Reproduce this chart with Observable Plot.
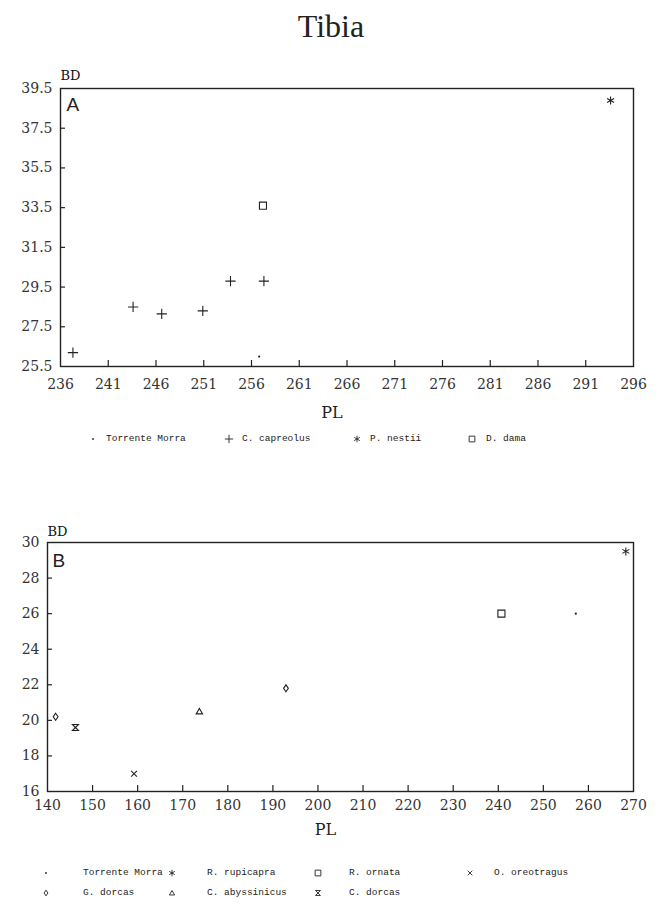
<!DOCTYPE html>
<html><head><meta charset="utf-8">
<script src="https://cdn.jsdelivr.net/npm/d3@7"></script>
<script src="https://cdn.jsdelivr.net/npm/@observablehq/plot@0.6"></script>
<style>
body{margin:0;background:#fff}
#root{position:relative;width:661px;height:906px;overflow:hidden;background:#fff;color:#222}
#title{position:absolute;left:0;width:662px;text-align:center;top:10px;font:32px/32px "Liberation Serif",serif;color:#222}
.panel{position:absolute;left:0}
.legend{position:absolute;display:grid;align-items:center;font:9.5px/20px "Liberation Mono",monospace;white-space:nowrap;color:#222}
.legend svg{display:block;overflow:visible}
</style></head><body>
<div id="root">
  <div id="title"></div>
  <div id="panelA" class="panel" style="top:60px"></div>
  <div id="legendA" class="legend" style="left:88px;top:429px;grid-template-columns:18px 118px 18px 110px 18px 97px 19px auto"></div>
  <div id="panelB" class="panel" style="top:480px"></div>
  <div id="legendB" class="legend" style="left:41px;top:863px;grid-template-columns:42px 84px 40px 106px 36px 116px 29px auto"></div>
</div>
<script>
// ---------- text ----------
const titleText = "Tibia";
const xLabel = "PL";
const yLabel = "BD";

// ---------- panel A data ----------
const aLetter = "A";
const aSpecies = ["Torrente Morra", "C. capreolus", "P. nestii", "D. dama"];
const aPL    = [237.3, 243.6, 246.6, 250.9, 253.8, 257.3, 257.2, 256.8, 293.6];
const aBD    = [26.2, 28.5, 28.15, 28.3, 29.8, 29.8, 33.6, 26.0, 38.9];
const aGroup = ["C. capreolus", "C. capreolus", "C. capreolus", "C. capreolus", "C. capreolus", "C. capreolus", "D. dama", "Torrente Morra", "P. nestii"];
const aXTicks = [236, 241, 246, 251, 256, 261, 266, 271, 276, 281, 286, 291, 296];
const aYTicks = [25.5, 27.5, 29.5, 31.5, 33.5, 35.5, 37.5, 39.5];

// ---------- panel B data ----------
const bLetter = "B";
const bSpecies = ["Torrente Morra", "R. rupicapra", "R. ornata", "O. oreotragus", "G. dorcas", "C. abyssinicus", "C. dorcas"];
const bPL    = [141.8, 146.2, 159.2, 173.7, 192.9, 240.7, 257.2, 268.3];
const bBD    = [20.2, 19.6, 17.0, 20.5, 21.8, 26.0, 26.0, 29.5];
const bGroup = ["G. dorcas", "C. dorcas", "O. oreotragus", "C. abyssinicus", "G. dorcas", "R. ornata", "Torrente Morra", "R. rupicapra"];
const bXTicks = [140, 150, 160, 170, 180, 190, 200, 210, 220, 230, 240, 250, 260, 270];
const bYTicks = [16, 18, 20, 22, 24, 26, 28, 30];

// ---------- symbols ----------
const rr = s => Math.sqrt(s / Math.PI);
const symDot = {draw(c, s) { const r = rr(s) * 0.4; c.moveTo(r, 0); c.arc(0, 0, r, 0, 2 * Math.PI); }};
const symPlus = {draw(c, s) { const h = rr(s) * 1.6; c.moveTo(-h, 0); c.lineTo(h, 0); c.moveTo(0, -h); c.lineTo(0, h); }};
const symAsterisk = {draw(c, s) { const h = rr(s) * 1.25, a = h * 0.87, b = h * 0.5;
  c.moveTo(0, -h); c.lineTo(0, h); c.moveTo(-a, -b); c.lineTo(a, b); c.moveTo(-a, b); c.lineTo(a, -b); }};
const symSquare = {draw(c, s) { const h = rr(s) * 1.1; c.rect(-h, -h, 2 * h, 2 * h); }};
const symTimes = {draw(c, s) { const h = rr(s) * 0.9; c.moveTo(-h, -h); c.lineTo(h, h); c.moveTo(-h, h); c.lineTo(h, -h); }};
const symDiamond = {draw(c, s) { const r = rr(s), w = r * 0.75, hh = r * 1.1;
  c.moveTo(0, -hh); c.lineTo(w, 0); c.lineTo(0, hh); c.lineTo(-w, 0); c.closePath(); }};
const symTriangle = {draw(c, s) { const r = rr(s), w = r, hh = r * 0.95;
  c.moveTo(0, -hh); c.lineTo(w, hh * 0.8); c.lineTo(-w, hh * 0.8); c.closePath(); }};
const symHourglass = {draw(c, s) { const h = rr(s) * 0.95;
  c.moveTo(-h, -h); c.lineTo(h, -h); c.lineTo(-h, h); c.lineTo(h, h); c.closePath(); }};

const aSymbols = [symDot, symPlus, symAsterisk, symSquare];
const bSymbols = [symDot, symAsterisk, symSquare, symTimes, symDiamond, symTriangle, symHourglass];

const INK = "#222";
const TORRENTE = "Torrente Morra";
const X_TICK_LEN = 6, Y_TICK_LEN = 5;

function panel(o) {
  const rows = o.pl.map((p, i) => ({pl: p, bd: o.bd[i], group: o.group[i]}));
  const xd = [o.xTicks[0], o.xTicks[o.xTicks.length - 1]];
  const yd = [o.yTicks[0], o.yTicks[o.yTicks.length - 1]];
  const frameH = o.height - o.mt - o.mb;
  const frameW = 661 - o.ml - o.mr;
  return Plot.plot({
    width: 661, height: o.height,
    marginLeft: o.ml, marginRight: o.mr, marginTop: o.mt, marginBottom: o.mb,
    style: {fontFamily: "'DejaVu Serif', serif", fontSize: "14px", color: INK, background: "#fff", overflow: "visible"},
    x: {domain: xd},
    y: {domain: yd},
    symbol: {domain: o.species, range: o.symbols},
    marks: [
      // inward tick marks on the bottom and left edges of the frame
      Plot.ruleX(o.xTicks.slice(1, -1), {x: d => d, insetTop: frameH - X_TICK_LEN, stroke: INK, strokeWidth: 1.2}),
      Plot.ruleY(o.yTicks.slice(1, -1), {y: d => d, insetRight: frameW - Y_TICK_LEN, stroke: INK, strokeWidth: 1.2}),
      Plot.frame({stroke: INK, strokeWidth: 1.4}),
      Plot.axisX(o.xTicks, {tickSize: 0, tickPadding: o.xPad, label: null, fill: "#333", tickFormat: d => String(d)}),
      Plot.axisY(o.yTicks, {tickSize: 0, tickPadding: 8, label: null, fill: "#333", tickFormat: o.yFormat}),
      Plot.dot(rows, {filter: d => d.group !== TORRENTE, x: "pl", y: "bd", symbol: "group", r: 3.2, stroke: INK, strokeWidth: 1.1, fill: "none"}),
      Plot.dot(rows, {filter: d => d.group === TORRENTE, x: "pl", y: "bd", r: 1.1, fill: INK, stroke: "none"}),
      Plot.text([o.letter], {text: d => d, frameAnchor: "top-left", dx: o.letterDx, dy: o.letterDy, lineAnchor: "top", textAnchor: "start", fontFamily: "'Liberation Sans', Arial, sans-serif", fontSize: 19, fill: INK}),
      Plot.text([yLabel], {text: d => d, frameAnchor: "top-left", dy: o.bdDy, lineAnchor: "bottom", textAnchor: "start", fontSize: 13, fill: "#111"}),
      Plot.text([xLabel], {text: d => d, frameAnchor: "bottom", dx: -15, dy: o.plDy, lineAnchor: "middle", fontSize: 16, fill: "#222"})
    ]
  });
}

function legend(el, names, symbols) {
  names.forEach((name, i) => {
    const s = document.createElementNS("http://www.w3.org/2000/svg", "svg");
    s.setAttribute("width", 10); s.setAttribute("height", 10);
    const p = document.createElementNS("http://www.w3.org/2000/svg", "path");
    const isDot = name === TORRENTE;
    p.setAttribute("d", d3.symbol(symbols[i], Math.PI * (isDot ? 2.2 * 2.2 : 2.6 * 2.6))());
    p.setAttribute("transform", "translate(5,5)");
    p.setAttribute("fill", isDot ? INK : "none");
    p.setAttribute("stroke", isDot ? "none" : INK);
    p.setAttribute("stroke-width", 0.9);
    s.appendChild(p);
    const cell = document.createElement("div");
    cell.appendChild(s);
    const t = document.createElement("div");
    t.textContent = name;
    el.appendChild(cell); el.appendChild(t);
  });
}

document.getElementById("title").textContent = titleText;

document.getElementById("panelA").appendChild(panel({
  species: aSpecies, symbols: aSymbols, pl: aPL, bd: aBD, group: aGroup,
  xTicks: aXTicks, yTicks: aYTicks, letter: aLetter, yFormat: d => d.toFixed(1),
  height: 370, ml: 60, mr: 28, mt: 28, mb: 64, xPad: 13, plDy: 46, bdDy: -9, letterDx: 6, letterDy: 9
}));
document.getElementById("panelB").appendChild(panel({
  species: bSpecies, symbols: bSymbols, pl: bPL, bd: bBD, group: bGroup,
  xTicks: bXTicks, yTicks: bYTicks, letter: bLetter, yFormat: d => String(d),
  height: 370, ml: 47, mr: 28, mt: 62, mb: 59, xPad: 9, plDy: 38, bdDy: -7, letterDx: 5, letterDy: 11
}));

legend(document.getElementById("legendA"), aSpecies, aSymbols);
legend(document.getElementById("legendB"), bSpecies, bSymbols);
</script>
</body></html>
